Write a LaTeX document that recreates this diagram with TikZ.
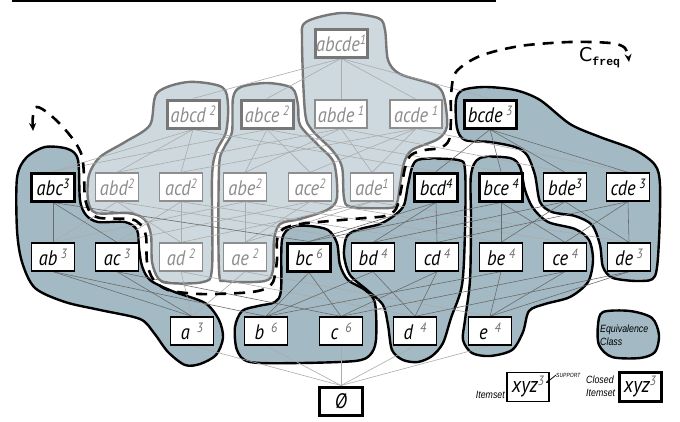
\documentclass[tikz,border=0pt]{standalone}
\usepackage{fontspec}
\newfontfamily\nf[FakeStretch=0.88]{PT Sans}
\newfontfamily\lf[FakeStretch=0.84]{Liberation Sans}
\newfontfamily\cf{Liberation Mono}
\newfontfamily\csf{DejaVu Sans}
\usetikzlibrary{arrows.meta}
\definecolor{darkfill}{HTML}{A3BAC4}
\definecolor{lightfill}{HTML}{CDD9DF}
\definecolor{lightedge}{HTML}{777777}
\definecolor{infbox}{HTML}{8E8E8E}
\definecolor{inftext}{HTML}{8C8C8C}
\definecolor{supgray}{HTML}{6E6E6E}
\pgfdeclarelayer{blobs}
\pgfdeclarelayer{edges}
\pgfsetlayers{blobs,edges,main}
\newcommand\supg[1]{\raisebox{7pt}{\fontsize{13.5}{13.5}\selectfont\color{supgray}#1}}
\newcommand\supk[1]{\raisebox{7pt}{\fontsize{13.5}{13.5}\selectfont #1}}
\begin{document}
\begin{tikzpicture}[x=1pt,y=-1pt,
  itm/.style={draw=black, fill=white, line width=1.3pt, minimum width=43pt, minimum height=28pt, inner sep=0pt, font=\nf\itshape\fontsize{21}{21}\selectfont},
  wide/.style={minimum width=52pt},
  clsd/.style={line width=3pt},
  inf/.style={draw=infbox, text=inftext},
  infc/.style={draw=lightedge, line width=3pt, text=inftext},
  darkblob/.style={fill=darkfill, draw=black, line width=2.4pt},
  lightblob/.style={fill=lightfill, draw=lightedge, line width=2.4pt},
  edgeL/.style={draw=black!33, line width=0.6pt},
  edgeD/.style={draw=black!58, line width=0.6pt},
  freqline/.style={line width=2.6pt, dash pattern=on 11pt off 8pt, {Stealth[length=8pt,width=7pt]}-{Stealth[length=8pt,width=7pt]}},
  lgtext/.style={font=\lf\itshape\fontsize{10.5}{13}\selectfont, inner sep=0pt, align=left},
  lgbox/.style={itm, minimum width=42pt, minimum height=29pt, font=\nf\itshape\fontsize{22}{22}\selectfont}
]
\useasboundingbox (0,0) rectangle (680,421);
\draw[line width=1.6pt] (12,1) -- (496,1);

% ---------- blobs ----------
\begin{pgfonlayer}{blobs}
% light (infrequent) classes
\draw[lightblob] plot[smooth cycle] coordinates {(188,82) (222,87) (228,105) (226,132) (216,152) (212,178) (212,268) (203,282) (168,283) (158,278) (152,262) (151,235) (145,220) (130,213) (96,213) (88,200) (89,175) (100,157) (125,142) (150,125) (157,93)};
\draw[lightblob] plot[smooth cycle] coordinates {(267,83) (292,88) (298,105) (300,125) (318,145) (334,163) (337,198) (327,210) (300,219) (280,224) (274,240) (273,270) (265,281) (226,281) (219,270) (219,168) (224,148) (232,132) (233,98) (241,87)};
\draw[lightblob] plot[smooth cycle] coordinates {(341,13) (378,18) (385,30) (388,60) (400,74) (435,85) (444,97) (447,126) (438,139) (412,150) (404,163) (400,185) (397,203) (390,208) (351,207) (344,198) (342,167) (332,150) (312,130) (305,112) (302,40) (306,22)};
% dark (frequent) classes
\draw[darkblob] plot[smooth cycle] coordinates {(45,147) (68,149) (78,160) (80,200) (86,215) (98,222) (125,222) (137,230) (139,248) (142,266) (150,280) (172,291) (205,303) (219,320) (223,338) (216,355) (200,364) (185,365) (168,352) (154,333) (140,319) (100,310) (65,302) (35,288) (22,262) (17,230) (17,178) (26,158)};
\draw[darkblob] plot[smooth cycle] coordinates {(292,227) (310,226) (328,230) (337,243) (340,265) (348,280) (365,290) (375,303) (376,340) (370,355) (355,361) (300,363) (250,362) (237,350) (235,327) (242,311) (258,306) (275,302) (281,290) (282,240)};
\draw[darkblob] plot[smooth cycle] coordinates {(422,159) (458,160) (465,170) (465,230) (462,285) (451,318) (443,343) (432,356) (418,362) (403,360) (392,350) (388,325) (383,305) (367,290) (350,275) (344,255) (347,236) (360,229) (380,224) (395,215) (404,205) (408,185) (413,165)};
\draw[darkblob] plot[smooth cycle] coordinates {(480,158) (510,158) (520,167) (525,190) (533,208) (548,222) (575,229) (589,240) (593,260) (588,282) (570,297) (545,304) (529,311) (523,332) (512,350) (490,356) (472,353) (463,340) (465,320) (470,280) (471,220) (471,175)};
\draw[darkblob] plot[smooth cycle] coordinates {(463,90) (485,87) (515,90) (540,100) (570,124) (600,137) (635,150) (655,165) (660,185) (659,240) (655,276) (640,281) (613,278) (603,267) (600,245) (592,225) (575,216) (552,212) (540,202) (535,175) (527,155) (515,147) (490,142) (465,140) (457,128) (456,100)};
% legend class
\draw[darkblob] plot[smooth cycle] coordinates {(603,312) (630,311) (652,318) (659,335) (655,352) (640,358) (612,357) (599,345) (598,325)};
\end{pgfonlayer}

% ---------- itemsets ----------
\node[itm, wide, infc] (abcde) at (341,43) {abcde\supk{1}};
\node[itm, wide, infc] (abcd) at (193,114) {abcd\,\supk{2}};
\node[itm, wide, infc] (abce) at (267,114) {abce\,\supk{2}};
\node[itm, wide, inf] (abde) at (341,114) {abde\,\supk{1}};
\node[itm, wide, inf] (acde) at (416,114) {acde\,\supk{1}};
\node[itm, wide, clsd] (bcde) at (490,114) {bcde\,\supg{3}};

\node[itm, clsd] (abc) at (53,187) {abc\supk{3}};
\node[itm, inf] (abd) at (117,187) {abd\supk{2}};
\node[itm, inf] (acd) at (181,187) {acd\supk{2}};
\node[itm, inf] (abe) at (245,187) {abe\supk{2}};
\node[itm, inf] (ace) at (310,187) {ace\supk{2}};
\node[itm, inf] (ade) at (372,187) {ade\supk{1}};
\node[itm, clsd] (bcd) at (436,187) {bcd\supk{4}};
\node[itm, clsd] (bce) at (501,187) {bce\,\supk{4}};
\node[itm] (bde) at (565,187) {bde\supk{3}};
\node[itm] (cde) at (628,187) {cde\,\supk{3}};

\node[itm] (ab) at (53,257) {ab\,\supg{3}};
\node[itm] (ac) at (117,257) {ac\,\supg{3}};
\node[itm, inf] (ad) at (181,257) {ad\,\supk{2}};
\node[itm, inf] (ae) at (245,257) {ae\,\supk{2}};
\node[itm, clsd] (bc) at (309,257) {bc\,\supg{6}};
\node[itm] (bd) at (373,257) {bd\,\supg{4}};
\node[itm] (cd) at (437,257) {cd\,\supg{4}};
\node[itm] (be) at (501,257) {be\,\supg{4}};
\node[itm] (ce) at (565,257) {ce\,\supg{4}};
\node[itm] (de) at (629,257) {de\,\supg{3}};

\node[itm] (a) at (192,331) {a\,\,\supg{3}};
\node[itm] (b) at (266,331) {b\,\,\supg{6}};
\node[itm] (c) at (341,331) {c\,\,\supg{6}};
\node[itm] (d) at (415,331) {d\,\,\supg{4}};
\node[itm] (e) at (490,331) {e\,\,\supg{4}};

\node[itm, clsd] (empty) at (341,401) {Ø};

% ---------- lattice edges ----------
\begin{pgfonlayer}{edges}
\foreach \u/\ls in {abcde/{abcd,abce,abde,acde,bcde}, abcd/{abc,abd,acd,bcd}, abce/{abc,abe,ace,bce}, abde/{abd,abe,ade,bde}, acde/{acd,ace,ade,cde}, abd/{ab,ad,bd}, acd/{ac,ad,cd}, abe/{ab,ae,be}, ace/{ac,ae,ce}, ade/{ad,ae,de}, ad/{a,d}, ae/{a,e}, a/{empty}, b/{empty}, c/{empty}, d/{empty}, e/{empty}}
  {\foreach \l in \ls {\draw[edgeL] (\u.south) -- (\l.north);}}
\foreach \u/\ls in {bcde/{bcd,bce,bde,cde}, abc/{ab,ac,bc}, bcd/{bc,bd,cd}, bce/{bc,be,ce}, bde/{bd,be,de}, cde/{cd,ce,de}, ab/{a,b}, ac/{a,c}, bc/{b,c}, bd/{b,d}, be/{b,e}, cd/{c,d}, ce/{c,e}, de/{d,e}}
  {\foreach \l in \ls {\draw[edgeD] (\u.south) -- (\l.north);}}
\end{pgfonlayer}

% ---------- frequent border ----------
\draw[freqline] plot[smooth] coordinates {(33,131) (33,116) (37,107) (48,113) (62,126) (75,142) (82,156) (84,175) (85,198) (90,212) (100,218) (130,219) (140,224) (146,236) (147,262) (153,279) (168,290) (200,294) (240,293) (262,290) (273,282) (277,260) (277,240) (283,229) (300,224) (330,221) (365,218) (385,216) (396,209) (401,190) (405,168) (411,155) (425,150) (440,148) (449,140) (451,118) (451,95) (456,72) (480,56) (520,46) (570,42) (610,43) (625,48) (629,62)};
\node[anchor=base west, inner sep=0pt] (cfreq) at (579,61) {\csf\fontsize{19}{19}\selectfont C\raisebox{-4pt}{\cf\bfseries\fontsize{11.5}{11.5}\selectfont freq}};

% ---------- legend ----------
\node[lgtext, anchor=west, font=\lf\itshape\fontsize{10.5}{13}\selectfont] (eqc) at (600,335) {Equivalence\\Class};
\node[lgbox] (lgi) at (528,387) {xyz\supg{3}};
\node[lgtext, anchor=east] (lgitxt) at (505,395) {Itemset};
\node[inner sep=0pt, anchor=west, font=\lf\itshape\fontsize{6}{7}\selectfont] (suplab) at (556,375) {SUPPORT};
\coordinate (suptip) at (546,383);
\draw[line width=0.8pt, -{Stealth[length=3pt,width=3pt]}] (suplab.west) -- (suptip);
\node[lgtext, anchor=west] (lgctxt) at (586,386) {Closed\\Itemset};
\node[lgbox, clsd] (lgc) at (640,387) {xyz\supg{3}};
\end{tikzpicture}
\end{document}
